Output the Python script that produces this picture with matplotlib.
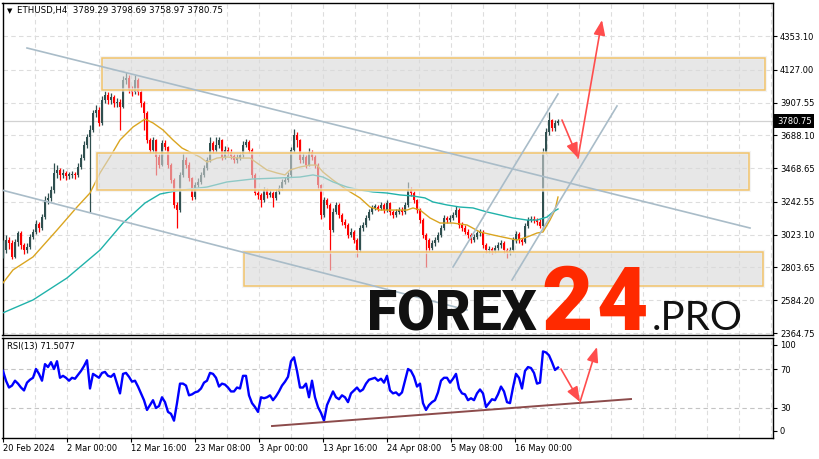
import numpy as np
import matplotlib.pyplot as plt
from matplotlib.patches import Rectangle

# fechos (um candle a cada 3 barras H4)
closes = [2920, 2987, 2967, 2874, 2974, 3034, 2954, 2920, 2940, 3007,
          3041, 3094, 3068, 3141, 3255, 3269, 3322, 3436, 3456, 3422,
          3436, 3416, 3422, 3430, 3420, 3476, 3536, 3623, 3677, 3724,
          3838, 3858, 3771, 3925, 3958, 3925, 3945, 3904, 3910, 3878,
          4058, 4072, 3992, 3978, 4058, 3978, 3904, 3838, 3657, 3590,
          3657, 3543, 3489, 3637, 3610, 3489, 3389, 3222, 3188, 3422,
          3523, 3489, 3402, 3275, 3356, 3376, 3422, 3469, 3523, 3637,
          3590, 3623, 3657, 3543, 3590, 3576, 3550, 3523, 3536, 3556,
          3623, 3643, 3590, 3422, 3302, 3289, 3255, 3322, 3289, 3302,
          3269, 3309, 3336, 3376, 3389, 3422, 3590, 3690, 3657, 3523,
          3543, 3489, 3576, 3543, 3489, 3356, 3155, 3255, 3222, 3054,
          3175, 3222, 3155, 3108, 3088, 3021, 3041, 2987, 2920, 3068,
          3088, 3135, 3175, 3202, 3208, 3202, 3222, 3188, 3235, 3175,
          3155, 3175, 3188, 3175, 3222, 3322, 3302, 3255, 3188, 3121,
          3021, 2987, 2934, 2967, 2987, 3021, 3068, 3135, 3121, 3135,
          3155, 3188, 3088, 3068, 3041, 3021, 2987, 3007, 3034, 3041,
          2954, 2920, 2925, 2915, 2934, 2954, 2967, 2920, 2907, 2920,
          2987, 3028, 2987, 2974, 3081, 3121, 3128, 3121, 3108, 3081,
          3576, 3710, 3791, 3737, 3771, 3780.75]
first_open = 2890

highs = [2990, 3020, 3010, 2990, 2995, 3050, 3045, 2970, 2965, 3025,
         3060, 3120, 3110, 3160, 3280, 3300, 3350, 3503, 3490, 3470,
         3460, 3450, 3445, 3450, 3445, 3500, 3560, 3650, 3700, 3760,
         3860, 3890, 3880, 3950, 3985, 3975, 3970, 3960, 3935, 3930,
         4085, 4112, 4090, 4020, 4090, 4075, 3995, 3920, 3850, 3670,
         3680, 3665, 3560, 3660, 3655, 3620, 3500, 3400, 3240, 3440,
         3570, 3540, 3510, 3410, 3375, 3400, 3440, 3490, 3545, 3677,
         3650, 3680, 3675, 3665, 3615, 3610, 3595, 3560, 3565, 3575,
         3650, 3665, 3655, 3600, 3435, 3320, 3305, 3340, 3335, 3325,
         3315, 3330, 3355, 3395, 3410, 3445, 3610, 3730, 3710, 3665,
         3570, 3555, 3600, 3590, 3555, 3500, 3365, 3275, 3270, 3235,
         3200, 3245, 3235, 3170, 3125, 3100, 3065, 3055, 3000, 3090,
         3110, 3155, 3195, 3225, 3230, 3225, 3240, 3235, 3255, 3245,
         3190, 3195, 3210, 3205, 3245, 3376, 3340, 3315, 3265, 3200,
         3135, 3035, 3000, 2990, 3010, 3040, 3090, 3155, 3150, 3155,
         3175, 3215, 3200, 3105, 3085, 3060, 3035, 3025, 3050, 3060,
         3055, 2965, 2945, 2940, 2955, 2975, 2985, 2980, 2935, 2940,
         3005, 3045, 3040, 3000, 3100, 3140, 3145, 3145, 3135, 3125,
         3600, 3740, 3844, 3800, 3790, 3798.69]
lows = [2870, 2900, 2930, 2860, 2865, 2950, 2930, 2895, 2900, 2930,
        2995, 3030, 3040, 3055, 3130, 3230, 3250, 3300, 3400, 3390,
        3400, 3390, 3395, 3400, 3395, 3410, 3460, 3520, 3600, 3175,
        3710, 3810, 3750, 3760, 3905, 3900, 3900, 3880, 3880, 3724,
        3870, 4030, 3970, 3950, 3965, 3960, 3880, 3724, 3640, 3570,
        3575, 3422, 3470, 3480, 3590, 3470, 3370, 3200, 3068, 3175,
        3410, 3470, 3380, 3255, 3260, 3340, 3360, 3410, 3455, 3510,
        3570, 3575, 3600, 3525, 3530, 3555, 3530, 3500, 3505, 3520,
        3545, 3610, 3570, 3400, 3290, 3265, 3208, 3245, 3270, 3275,
        3208, 3255, 3295, 3325, 3360, 3375, 3410, 3575, 3610, 3500,
        3505, 3470, 3480, 3525, 3470, 3330, 3130, 3140, 3200, 2787,
        3040, 3160, 3135, 3090, 3065, 3000, 3005, 2970, 2874, 2910,
        3050, 3075, 3120, 3160, 3185, 3180, 3185, 3170, 3175, 3155,
        3135, 3140, 3160, 3155, 3160, 3210, 3280, 3235, 3170, 3100,
        3000, 2807, 2915, 2920, 2950, 2975, 3005, 3055, 3100, 3105,
        3120, 3140, 3070, 3050, 3025, 3000, 2970, 2975, 2995, 3015,
        2935, 2900, 2900, 2895, 2900, 2915, 2935, 2900, 2867, 2885,
        2905, 2970, 2970, 2955, 2965, 3070, 3105, 3100, 3090, 3065,
        3060, 3560, 3690, 3715, 3720, 3758.97]

rsi = [68, 58, 51, 53, 58, 55, 51, 48, 56, 59,
       61, 70, 65, 58, 75, 72, 77, 70, 78, 61,
       63, 61, 58, 61, 60, 64, 68, 73, 79, 50,
       65, 63, 61, 66, 67, 63, 62, 65, 55, 45,
       65, 66, 62, 57, 58, 52, 45, 38, 28, 33,
       38, 30, 32, 41, 36, 26, 24, 17, 35, 55,
       55, 53, 43, 44, 46, 47, 50, 56, 58, 66,
       65, 61, 52, 55, 54, 51, 47, 47, 51, 50,
       63, 63, 43, 35, 31, 26, 41, 40, 41, 43,
       38, 42, 47, 53, 57, 62, 78, 82, 68, 51,
       51, 55, 41, 58, 41, 31, 25, 17, 33, 40,
       47, 41, 39, 43, 41, 36, 45, 48, 51, 47,
       49, 55, 59, 60, 61, 58, 60, 56, 63, 48,
       45, 46, 43, 46, 58, 70, 68, 62, 52, 55,
       35, 28, 33, 36, 38, 46, 58, 61, 61, 56,
       60, 65, 50, 45, 44, 38, 40, 38, 45, 49,
       45, 31, 35, 39, 38, 44, 52, 47, 36, 35,
       51, 65, 61, 50, 68, 72, 71, 66, 55, 56,
       88, 87, 84, 77, 69, 71.5077]

# medias moveis (barra, preco)
ma_fast_x = [3, 13, 33, 57, 77, 90, 100, 110, 120, 133, 145, 153, 163, 173, 182, 190, 200, 207,
             217, 227, 240, 250, 257, 267, 277, 285, 290, 300, 310, 317, 323, 333, 347, 360, 370,
             380, 393, 407, 413, 420, 430, 440, 453, 467, 480, 493, 507, 517, 527, 537, 543, 550,
             555, 558]
ma_fast = [2700, 2787, 2874, 3054, 3208, 3302, 3436, 3543, 3657, 3744, 3797, 3771, 3724, 3657,
           3603, 3576, 3543, 3509, 3536, 3543, 3536, 3536, 3503, 3456, 3436, 3423, 3456, 3476,
           3489, 3489, 3442, 3389, 3322, 3269, 3208, 3188, 3188, 3188, 3202, 3188, 3135, 3101,
           3101, 3088, 3041, 3021, 3001, 2987, 3007, 3034, 3041, 3121, 3188, 3275]
ma_slow_x = [3, 33, 67, 100, 123, 145, 160, 175, 190, 207, 227, 253, 277, 300, 313, 323, 333, 347,
             360, 373, 387, 400, 413, 425, 433, 447, 460, 473, 487, 500, 513, 527, 537, 547, 553, 558]
ma_slow = [2500, 2586, 2733, 2920, 3101, 3235, 3295, 3315, 3329, 3342, 3376, 3396, 3402, 3409,
           3423, 3409, 3376, 3342, 3322, 3309, 3302, 3289, 3282, 3269, 3242, 3222, 3208, 3202,
           3175, 3155, 3135, 3121, 3121, 3141, 3175, 3195]

price_ticks = [4353.10, 4127.00, 3907.55, 3688.10, 3468.65, 3242.55, 3023.10, 2803.65, 2584.20, 2364.75]
date_pos = [3, 67, 131, 195, 259, 323, 387, 451, 515]
date_labels = ['20 Feb 2024', '2 Mar 00:00', '12 Mar 16:00', '23 Mar 08:00', '3 Apr 00:00',
               '13 Apr 16:00', '24 Apr 08:00', '5 May 08:00', '16 May 00:00']

# zonas (x0, x1, baixo, cima)
zone_x0 = [102, 97, 244]
zone_x1 = [765, 749, 763]
zone_lo = [3991.6, 3322.1, 2679.4]
zone_hi = [4205.8, 3569.8, 2907.3]

W, H = 819, 459
def frame(x0, y0, x1, y1):
    return [x0 / W, 1 - y1 / H, (x1 - x0) / W, (y1 - y0) / H]

fig = plt.figure(figsize=(8.19, 4.59), dpi=100)
ax = fig.add_axes(frame(2.5, 2.5, 773, 335))
ar = fig.add_axes(frame(2.5, 338, 773, 437.5))

grid_c = '#dddddd'
dash = (0, (4, 3))

# grelha
for gx in range(35, 773, 32):
    ax.axvline(gx, color=grid_c, lw=0.8, ls=dash, zorder=0)
    ar.axvline(gx, color=grid_c, lw=0.8, ls=dash, zorder=0)
for p in price_ticks:
    ax.axhline(p, color=grid_c, lw=0.8, ls=dash, zorder=0)
ax.axhline(closes[-1], color='#d2d2d2', lw=0.9, zorder=1)

# candles
xs = 3 + 3 * np.arange(len(closes))
c = np.array(closes, float)
o = np.r_[first_open, c[:-1]]
cols = np.where(c >= o, '#2f4f4f', '#ff0000')
h = c - o
h = np.where(np.abs(h) < 10, np.where(h >= 0, 10, -10), h)
ax.vlines(xs, lows, highs, colors=cols, lw=0.9, zorder=3)
ax.bar(xs, h, bottom=o, width=2.4, color=cols, linewidth=0, zorder=3)

# medias
ax.plot(ma_fast_x, ma_fast, color='#daa520', lw=1, zorder=4)
ax.plot(ma_slow_x, ma_slow, color='#20b2aa', lw=1, zorder=4)

# zonas
for x0, x1, lo, hi in zip(zone_x0, zone_x1, zone_lo, zone_hi):
    ax.add_patch(Rectangle((x0, lo), x1 - x0, hi - lo, fc='#d8d8d8', ec='#ececec', lw=3,
                           alpha=0.6, zorder=5))
    ax.add_patch(Rectangle((x0, lo), x1 - x0, hi - lo, fc='none', ec='#f2c46b', lw=1.1, zorder=6))

# linhas de tendencia
tl = '#a9bcc8'
ax.plot([27, 750], [4272.8, 3067.7], color=tl, lw=1.2, zorder=7)
ax.plot([2.5, 467], [3320.5, 2518.7], color=tl, lw=1.2, zorder=7)
ax.plot([453, 558], [2806.6, 3964.8], color=tl, lw=1.2, zorder=7)
ax.plot([512, 617], [2719.6, 3884.5], color=tl, lw=1.2, zorder=7)

arrow = dict(arrowstyle='-|>,head_length=0.9,head_width=0.35', color='#ff4d4d', lw=1.2,
             shrinkA=0, shrinkB=0)
ax.annotate('', xy=(578, 3536.3), xytext=(562, 3790.7), arrowprops=arrow, zorder=8)
ax.annotate('', xy=(602, 4460.2), xytext=(578, 3536.3), arrowprops=arrow, zorder=8)

# logo
heavy = ['Roboto', 'Liberation Sans', 'DejaVu Sans']
ax.text(367, 2384.8, 'FOREX', fontsize=39.5, fontweight='black', color='#111111',
        family=heavy, va='baseline', zorder=12)
ax.text(541, 2384.8, '2', fontsize=64, fontweight='black', color='#ff2a00',
        family=heavy, va='baseline', zorder=12)
ax.text(596, 2384.8, '4', fontsize=64, fontweight='black', color='#ff2a00',
        family=heavy, va='baseline', zorder=12)
ax.text(652, 2384.8, '.PRO', fontsize=29, fontweight='normal', color='#111111',
        family=['Lato', 'Open Sans', 'DejaVu Sans'], va='baseline', zorder=12)

ax.set_xlim(2.5, 773)
ax.set_ylim(2351.4, 4577.4)
ax.set_xticks([])
ax.yaxis.tick_right()
ax.set_yticks(price_ticks)
ax.set_yticklabels([f'{p:.2f}' for p in price_ticks])
ax.tick_params(axis='y', length=3, width=0.8, labelsize=6, pad=2)
ax.text(777, closes[-1], f'{closes[-1]:.2f}', color='white', fontsize=6, va='center', ha='left',
        bbox=dict(boxstyle='square,pad=0.3', fc='black', ec='none'), clip_on=False, zorder=10)

# RSI
ar.axhline(70, color='#c4c4c4', lw=0.8, ls=dash, zorder=0)
ar.axhline(30, color='#c4c4c4', lw=0.8, ls=dash, zorder=0)
ar.plot(xs, rsi, color='#0000ff', lw=1.7, zorder=3)
ar.plot([272, 631], [11.5, 39.2], color='#8c4b4b', lw=1.4, zorder=4)
ar.annotate('', xy=(580, 36.2), xytext=(561, 70), arrowprops=arrow, zorder=5)
ar.annotate('', xy=(597, 92.6), xytext=(580, 36.2), arrowprops=arrow, zorder=5)
ar.set_xlim(2.5, 773)
ar.set_ylim(-0.26, 101.8)
ar.yaxis.tick_right()
ar.set_yticks([94.7, 70, 30, 6.5])
ar.set_yticklabels(['100', '70', '30', '0'])
ar.tick_params(axis='y', length=3, width=0.8, labelsize=6, pad=2)
ar.set_xticks(date_pos)
ar.set_xticklabels(date_labels)
for lab in ar.get_xticklabels():
    lab.set_ha('left')
ar.tick_params(axis='x', length=3, width=0.8, labelsize=6, pad=2)

for a in (ax, ar):
    for s in a.spines.values():
        s.set_color('black')
        s.set_linewidth(1)

fig.text(7 / W, 1 - 11 / H, '\u25bc', fontsize=5, va='center')
fig.text(17 / W, 1 - 11 / H, 'ETHUSD,H4  3789.29 3798.69 3758.97 3780.75', fontsize=6.2, va='center')
fig.text(7 / W, 1 - 347 / H, 'RSI(13) 71.5077', fontsize=6, va='center')

fig.savefig('out.png', dpi=100)
